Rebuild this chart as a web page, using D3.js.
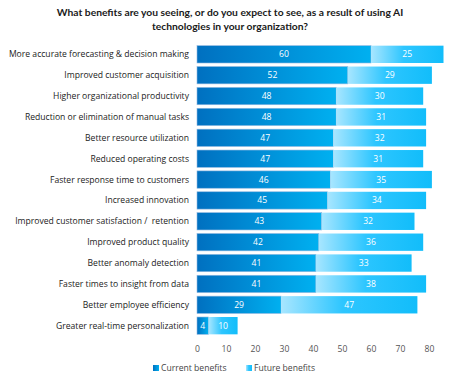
<!DOCTYPE html>
<html>
<head>
<meta charset="utf-8">
<script src="https://cdn.jsdelivr.net/npm/d3@7"></script>
<style>
  body { margin: 0; background: #fff; }
  svg { font-family: "Open Sans", Lato, sans-serif; }
  .cat { white-space: pre; }
</style>
</head>
<body>
<svg id="chart" width="460" height="380"></svg>
<script>
// data
const categories = [
  "More accurate forecasting & decision making",
  "Improved customer acquisition",
  "Higher organizational productivity",
  "Reduction or elimination of manual tasks",
  "Better resource utilization",
  "Reduced operating costs",
  "Faster response time to customers",
  "Increased innovation",
  "Improved customer satisfaction /  retention",
  "Improved product quality",
  "Better anomaly detection",
  "Faster times to insight from data",
  "Better employee efficiency",
  "Greater real-time personalization"
];
const current = [60, 52, 48, 48, 47, 47, 46, 45, 43, 42, 41, 41, 29, 4];
const future = [25, 29, 30, 31, 32, 31, 35, 34, 32, 36, 33, 38, 47, 10];
const xTicks = [0, 10, 20, 30, 40, 50, 60, 70, 80];
const seriesNames = ["Current benefits", "Future benefits"];

const svg = d3.select("#chart");

const x = d3.scaleLinear().domain([0, 80]).range([197, 429]);
const y = d3.scaleBand().domain(categories).range([44, 336]).paddingInner(0.17).paddingOuter(0.08);

// gradients
const defs = svg.append("defs");
const g1 = defs.append("linearGradient").attr("id", "gCur");
g1.append("stop").attr("offset", "0%").attr("stop-color", "#0070c0");
g1.append("stop").attr("offset", "100%").attr("stop-color", "#00b0f0");
const g2 = defs.append("linearGradient").attr("id", "gFut");
g2.append("stop").attr("offset", "0%").attr("stop-color", "#a8e6ff");
g2.append("stop").attr("offset", "45%").attr("stop-color", "#2ec6ff");
g2.append("stop").attr("offset", "100%").attr("stop-color", "#12bdfa");

// title
svg.append("text")
  .attr("x", 230).attr("y", 15.5)
  .attr("text-anchor", "middle")
  .attr("font-family", "Lato, 'Open Sans', sans-serif")
  .attr("font-size", 10.3).attr("font-weight", "bold").attr("fill", "#1a1a1a")
  .selectAll("tspan")
  .data(["What benefits are you seeing, or do you expect to see, as a result of using AI",
         "technologies in your organization?"])
  .join("tspan")
  .attr("x", 230)
  .attr("dy", (d, i) => i ? 14.5 : 0)
  .text(d => d);

// category labels
svg.append("g").selectAll("text")
  .data(categories)
  .join("text")
  .attr("class", "cat")
  .attr("x", 189)
  .attr("y", d => y(d) + y.bandwidth() / 2)
  .attr("dy", "0.35em")
  .attr("text-anchor", "end")
  .attr("font-size", 8.6)
  .attr("fill", "#222")
  .text(d => d);

const rows = categories.map((c, i) => ({ c, cur: current[i], fut: future[i] }));

const bars = svg.append("g");

bars.selectAll(".cur")
  .data(rows)
  .join("rect")
  .attr("class", "cur")
  .attr("x", x(0))
  .attr("y", d => y(d.c))
  .attr("width", d => x(d.cur) - x(0))
  .attr("height", y.bandwidth())
  .attr("fill", "url(#gCur)")
  .attr("stroke", "#8fb7e0").attr("stroke-width", 0.6);

bars.selectAll(".fut")
  .data(rows)
  .join("rect")
  .attr("class", "fut")
  .attr("x", d => x(d.cur))
  .attr("y", d => y(d.c))
  .attr("width", d => x(d.cur + d.fut) - x(d.cur))
  .attr("height", y.bandwidth())
  .attr("fill", "url(#gFut)");

// value labels
bars.selectAll(".lc")
  .data(rows)
  .join("text")
  .attr("x", d => (x(0) + x(d.cur)) / 2)
  .attr("y", d => y(d.c) + y.bandwidth() / 2)
  .attr("dy", "0.35em")
  .attr("text-anchor", "middle")
  .attr("font-size", 8.6).attr("fill", "#fff")
  .text(d => d.cur);

bars.selectAll(".lf")
  .data(rows)
  .join("text")
  .attr("x", d => (x(d.cur) + x(d.cur + d.fut)) / 2)
  .attr("y", d => y(d.c) + y.bandwidth() / 2)
  .attr("dy", "0.35em")
  .attr("text-anchor", "middle")
  .attr("font-size", 8.6).attr("fill", "#fff")
  .text(d => d.fut);

// x axis
const axis = svg.append("g")
  .attr("transform", "translate(0,343)")
  .call(d3.axisBottom(x).tickValues(xTicks).tickSize(0).tickPadding(3));
axis.select(".domain").remove();
axis.selectAll("text").attr("font-size", 8.6).attr("fill", "#555")
  .attr("font-family", "'Open Sans', Lato, sans-serif");

// legend
const legend = svg.append("g").attr("transform", "translate(153,371)");
const items = legend.selectAll("g")
  .data(seriesNames)
  .join("g")
  .attr("transform", (d, i) => `translate(${i * 93},0)`);
items.append("rect")
  .attr("x", 0).attr("y", -6).attr("width", 6).attr("height", 6)
  .attr("fill", (d, i) => i ? "url(#gFut)" : "url(#gCur)");
items.append("text")
  .attr("x", 8).attr("y", 0)
  .attr("font-size", 8.6).attr("fill", "#444")
  .text(d => d);
</script>
</body>
</html>
